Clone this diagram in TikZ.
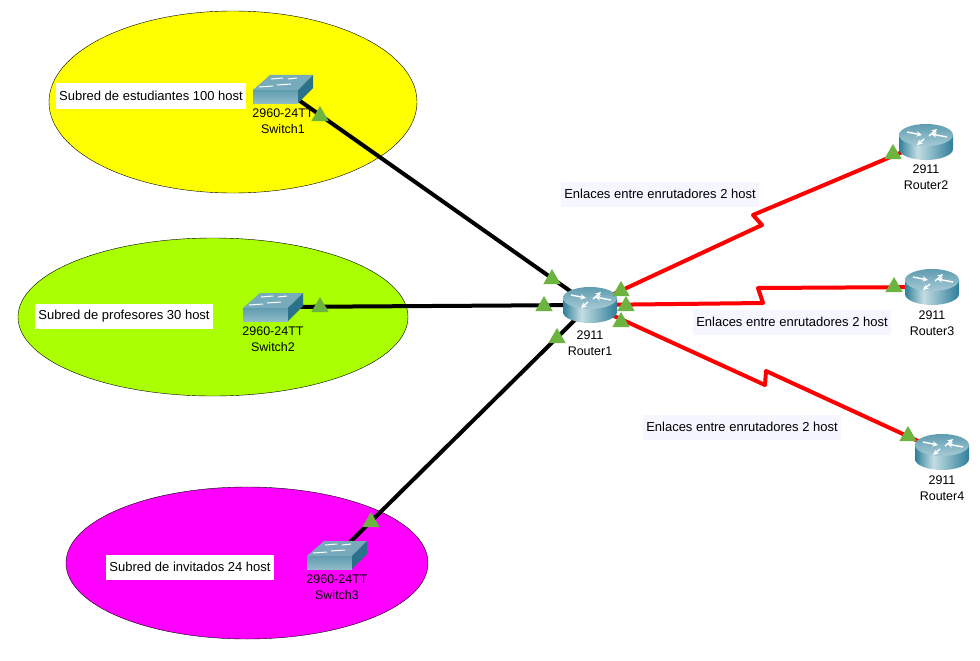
\documentclass[tikz,border=0pt]{standalone}
\usepackage{fontspec}
\setmainfont{Liberation Sans}
\usetikzlibrary{shapes.geometric}
\usetikzlibrary{positioning}
\definecolor{zone_yellow}{HTML}{FFFF00}
\definecolor{zone_green}{HTML}{AAFF00}
\definecolor{zone_pink}{HTML}{FF00FF}
\definecolor{led_green}{HTML}{6CB33F}
\definecolor{link_red}{HTML}{FF0000}
\definecolor{link_bg}{HTML}{F5F6FF}
\definecolor{teal_dark}{HTML}{2F7F99}
\definecolor{teal_mid}{HTML}{5F9CB0}
\definecolor{teal_light}{HTML}{C4DDE4}
\pgfdeclarehorizontalshading{router_body}{100bp}{color(0bp)=(teal_dark); color(25bp)=(teal_dark); color(42bp)=(teal_light); color(75bp)=(teal_dark); color(100bp)=(teal_dark)}
\tikzset{
  device_text/.style = {font=\fontsize{12.5}{16.5}\selectfont, align=center, inner sep=0pt},
  zone_text/.style = {font=\fontsize{13}{15}\selectfont, fill=white, inner xsep=3pt, minimum height=25pt},
  link_text/.style = {zone_text, fill=link_bg},
  black_link/.style = {draw=black, line width=4pt},
  red_link/.style = {draw=link_red, line width=4pt, line join=round},
  led/.style = {isosceles triangle, isosceles triangle apex angle=60, shape border rotate=90,
    fill=led_green, inner sep=0pt, minimum height=15pt, minimum width=17pt},
  box_router/.style = {inner sep=0pt, minimum width=54pt, minimum height=36pt},
  box_switch/.style = {inner sep=0pt, minimum width=60pt, minimum height=28pt},
  router_icon/.pic = {
    \shade[shading=router_body]
      (-27,-7) -- (-27,7) arc[start angle=180, end angle=0, x radius=27, y radius=11]
      -- (27,-7) -- cycle;
    \shade[top color=teal_mid, bottom color=teal_light!70!teal_mid]
      (0,-7) ellipse[x radius=27, y radius=11];
    \foreach \a/\b/\c/\d in {-19/-10/-4/-7,3/-6/11/-13,21/-5/5/-8,-2/-3/-9/3}{
      \draw[white, line width=1.4pt, -stealth] (\a,\b) -- (\c,\d);
    }
  },
  switch_icon/.pic = {
    \fill[teal_mid!85!white] (-30,1) -- (-13,-14) -- (30,-14) -- (15,1) -- cycle;
    \shade[top color=teal_mid, bottom color=teal_mid!70!white] (-30,1) rectangle (15,14);
    \fill[teal_dark!90!black] (15,1) -- (30,-14) -- (30,-1) -- (15,14) -- cycle;
    \foreach \a/\b/\c/\d in {-24/-2/-10/-3,-12/-10/0/-11,5/-10/14/-11,-6/-4/8/-5}{
      \draw[white, line width=1pt] (\a,\b) -- (\c,\d);
    }
  }
}
\begin{document}
\begin{tikzpicture}[x=1pt,y=-1pt]
\useasboundingbox (0,0) rectangle (980,661);

\fill[zone_yellow, draw=black] (233,102) ellipse[x radius=184, y radius=91];
\fill[zone_green, draw=black] (213,317) ellipse[x radius=195, y radius=79];
\fill[zone_pink, draw=black] (247,563) ellipse[x radius=181, y radius=76];

\foreach \x/\y/\n in {590/305/router1,926/142/router2,932/287/router3,942/452/router4}{
 \node[box_router] (\n) at (\x,\y){};
}
\foreach \x/\y/\n in {283/89/switch1,273/307/switch2,337/555/switch3}{
 \node[box_switch] (\n) at (\x,\y){};
}

\coordinate (kink2a) at (762,225);
\coordinate (kink2b) at (753,215);
\coordinate (kink3a) at (763,303);
\coordinate (kink3b) at (758,288);
\coordinate (kink4a) at (765,385);
\coordinate (kink4b) at (766,371);

\draw[black_link] (switch1.center) -- (router1.center);
\draw[black_link] (switch2.center) -- (router1.center);
\draw[black_link] (switch3.center) -- (router1.center);
\draw[red_link] (router1.center) -- (kink2a) -- (kink2b) -- (router2.center);
\draw[red_link] (router1.center) -- (kink3a) -- (kink3b) -- (router3.center);
\draw[red_link] (router1.center) -- (kink4a) -- (kink4b) -- (router4.center);

\foreach \n in {router1,router2,router3,router4}{
 \pic at (\n) {router_icon};
}
\foreach \n in {switch1,switch2,switch3}{
 \pic at (\n) {switch_icon};
}

\node[device_text, below=7pt of router1] (label1) {2911\\Router1};
\node[device_text, below=4pt of router2] (label2) {2911\\Router2};
\node[device_text, below=5pt of router3] (label3) {2911\\Router3};
\node[device_text, below=5pt of router4] (label4) {2911\\Router4};
\node[device_text, below=5pt of switch1] (label5) {2960-24TT\\Switch1};
\node[device_text, below=5pt of switch2] (label6) {2960-24TT\\Switch2};
\node[device_text, below=5pt of switch3] (label7) {2960-24TT\\Switch3};

\node[zone_text] (zone1) at (151,96) {Subred de estudiantes 100 host};
\node[zone_text] (zone2) at (124,316) {Subred de profesores 30 host};
\node[zone_text] (zone3) at (190,567) {Subred de invitados 24 host};
\node[link_text] (text2) at (660,194) {Enlaces entre enrutadores 2 host};
\node[link_text] (text3) at (792,322) {Enlaces entre enrutadores 2 host};
\node[link_text] (text4) at (742,427) {Enlaces entre enrutadores 2 host};

\foreach \x/\y/\n in {320/116/a,552/279/b,544/306/c,557/338/d,320/307/e,371/522/f,
 621/291/g,626/306/h,621/322/i,893/154/j,894/287/k,908/436/l}{
 \node[led] (led\n) at (\x,\y){};
}
\end{tikzpicture}
\end{document}
